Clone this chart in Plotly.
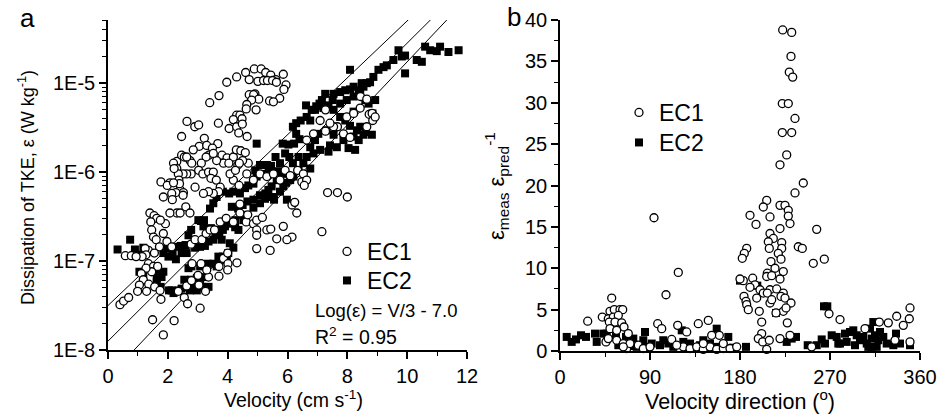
import plotly.graph_objects as go

# ---------------------------------------------------------------------------
# Panel a: dissipation of TKE vs. velocity (velocity in cm/s, log10 of epsilon)
# ---------------------------------------------------------------------------
ec1_velocity = [
    4.89, 5.12, 5.27, 5.44, 5.61, 5.86, 4.60, 4.30, 3.97, 4.72, 5.01, 5.20, 5.33, 5.50, 5.63, 5.95,
    5.88, 5.74, 5.40, 5.53, 4.91, 4.72, 4.87, 5.04, 4.80, 4.64, 4.95, 4.62, 3.71, 3.40, 4.30, 4.41,
    4.48, 4.19, 4.05, 4.30, 4.37, 4.49, 4.65, 3.69, 3.22, 2.64, 2.90, 3.03, 2.46, 3.05, 3.30, 2.85,
    3.67, 3.49, 3.37, 3.81, 3.98, 4.19, 4.29, 4.44, 4.59, 4.69, 4.50, 4.34, 3.86, 4.04, 3.63, 3.28,
    3.52, 3.12, 3.03, 3.17, 3.36, 3.52, 3.44, 3.62, 3.75, 3.70, 3.52, 3.36, 3.19, 2.91, 2.78, 2.63,
    2.51, 2.30, 2.19, 2.30, 2.46, 2.55, 2.74, 2.80, 2.63, 2.35, 2.21, 2.37, 2.41, 2.52, 2.27, 2.39,
    2.07, 1.77, 1.98, 2.19, 1.85, 2.13, 2.15, 2.51, 2.60, 2.74, 2.30, 2.41, 2.07, 1.92, 1.40, 1.54,
    1.63, 1.75, 1.43, 1.46, 1.52, 1.61, 1.85, 1.97, 2.13, 1.72, 1.35, 1.24, 1.55, 1.27, 1.14, 1.35,
    1.52, 1.66, 1.46, 1.27, 1.11, 1.18, 1.36, 1.05, 0.99, 1.29, 1.56, 1.74, 1.77, 1.49, 1.85, 2.21,
    0.40, 0.52, 0.69, 0.58, 0.78, 0.94, 2.35, 2.55, 2.66, 3.08, 3.26, 3.04, 2.63, 2.79, 3.01, 3.36,
    3.71, 3.86, 4.00, 4.01, 4.31, 4.00, 3.71, 3.30, 3.11, 2.81, 2.78, 2.91, 3.14, 3.28, 3.41, 3.56,
    3.75, 3.95, 4.19, 4.41, 4.62, 4.86, 4.97, 5.16, 4.97, 5.31, 5.44, 5.64, 5.86, 6.15, 5.98, 6.15,
    6.24, 6.31, 4.97, 5.42, 4.97, 4.67, 4.41, 4.19, 4.38, 4.08, 4.26, 4.39, 4.64, 4.86, 5.08, 5.31,
    5.53, 5.75, 5.92, 6.09, 6.34, 6.53, 6.48, 6.64, 6.56, 7.15, 7.34, 7.67, 8.00, 7.98, 8.21, 8.43,
    8.44, 8.65, 8.73, 8.83, 7.87, 7.67, 7.54, 7.42, 7.27, 6.87, 6.64, 7.09, 7.27, 8.09, 8.65, 8.85,
    8.93,
]
ec1_log_eps = [
    -4.84, -4.84, -4.88, -4.91, -4.96, -4.90, -4.88, -4.93, -4.99, -4.96, -4.98, -4.97, -4.97, -4.97, -4.99, -5.02,
    -5.07, -5.17, -5.20, -5.21, -5.12, -5.13, -5.13, -5.18, -5.19, -5.24, -5.30, -5.29, -5.14, -5.22, -5.36, -5.36,
    -5.40, -5.41, -5.51, -5.49, -5.56, -5.46, -5.60, -5.45, -5.62, -5.43, -5.49, -5.47, -5.60, -5.71, -5.70, -5.75,
    -5.68, -5.73, -5.81, -5.81, -5.84, -5.83, -5.75, -5.76, -5.78, -5.90, -5.87, -5.92, -5.90, -5.90, -5.87, -5.83,
    -5.79, -5.90, -5.98, -6.02, -6.00, -6.00, -6.07, -6.09, -6.17, -6.22, -6.24, -6.22, -6.24, -6.17, -6.02, -6.02,
    -6.02, -5.88, -5.90, -5.96, -5.81, -5.83, -5.87, -5.90, -5.83, -6.02, -5.96, -6.09, -6.20, -6.23, -6.23, -6.13,
    -6.12, -6.11, -6.15, -6.12, -6.28, -6.24, -6.31, -6.26, -6.39, -6.46, -6.46, -6.46, -6.46, -6.58, -6.46, -6.49,
    -6.52, -6.54, -6.56, -6.65, -6.73, -6.76, -6.69, -6.78, -6.84, -6.84, -6.88, -6.86, -6.91, -6.93, -6.95, -7.03,
    -7.06, -7.06, -7.12, -7.08, -7.14, -7.21, -7.26, -7.27, -7.34, -7.34, -7.29, -7.33, -7.43, -7.66, -7.83, -7.67,
    -7.49, -7.45, -7.41, -6.94, -6.94, -6.95, -7.34, -7.41, -7.48, -7.53, -7.34, -7.27, -7.28, -7.22, -7.16, -7.18,
    -7.06, -6.97, -6.91, -7.03, -7.02, -7.10, -7.17, -7.10, -7.03, -7.03, -6.81, -6.76, -6.76, -6.69, -6.65, -6.65,
    -6.56, -6.52, -6.56, -6.46, -6.56, -6.58, -6.54, -6.51, -6.65, -6.65, -6.64, -6.75, -6.61, -6.73, -6.76, -6.37,
    -6.34, -6.46, -6.86, -6.88, -6.71, -6.48, -6.36, -6.09, -6.15, -6.02, -5.98, -5.90, -6.02, -6.09, -6.02, -6.05,
    -6.02, -6.09, -5.98, -6.04, -5.98, -6.02, -6.11, -6.09, -6.15, -6.67, -6.23, -6.23, -6.28, -5.38, -5.34, -5.28,
    -5.15, -5.18, -5.35, -5.34, -5.57, -5.49, -5.49, -5.45, -5.54, -5.57, -5.64, -5.42, -5.30, -5.61, -5.49, -5.42,
    -5.38,
]

ec2_velocity = [
    0.32, 0.74, 0.90, 1.18, 1.10, 1.05, 1.18, 1.37, 1.57, 1.66, 1.79, 1.85, 1.63, 1.63, 1.76, 2.04,
    2.19, 2.36, 2.46, 2.66, 2.78, 2.97, 2.91, 3.08, 3.19, 3.36, 2.69, 2.79, 3.08, 3.33, 3.52, 3.63,
    3.69, 3.78, 3.84, 3.97, 4.02, 4.19, 4.07, 3.80, 3.59, 3.61, 3.44, 3.19, 3.02, 2.78, 2.69, 2.59,
    2.43, 2.24, 2.07, 1.91, 1.85, 2.02, 2.16, 2.27, 2.46, 2.63, 2.91, 3.08, 3.24, 3.36, 3.52, 3.72,
    3.84, 3.91, 4.08, 4.25, 4.36, 4.14, 4.05, 3.84, 3.63, 3.52, 3.41, 3.21, 3.11, 4.19, 4.41, 4.58,
    4.69, 4.86, 4.97, 5.20, 5.37, 4.92, 5.08, 5.31, 5.45, 5.60, 5.75, 5.67, 5.75, 5.64, 5.47, 5.36,
    5.26, 5.08, 4.86, 4.66, 4.50, 4.35, 4.47, 4.53, 4.26, 4.86, 5.08, 5.25, 5.40, 5.53, 5.75, 5.86,
    5.95, 6.09, 6.20, 6.37, 6.18, 6.06, 5.92, 5.84, 6.03, 6.22, 6.40, 6.29, 6.18, 6.29, 6.44, 6.64,
    6.81, 6.96, 7.07, 7.20, 7.37, 7.51, 7.54, 7.76, 7.93, 8.09, 8.21, 8.38, 8.54, 8.65, 8.76, 8.87,
    9.04, 9.21, 9.32, 9.54, 9.71, 9.82, 9.93, 10.32, 10.49, 10.60, 10.77, 10.99, 11.10, 11.38, 11.72, 8.09,
    7.54, 7.76, 7.98, 8.21, 8.43, 8.60, 8.71, 8.48, 7.76, 7.93, 8.09, 8.32, 8.21, 8.38, 8.54, 8.82,
    8.04, 8.26, 7.87, 7.65, 7.42, 7.37, 7.09, 6.87, 6.64, 6.76, 6.53, 6.37, 6.76, 6.92, 7.03, 7.31,
    7.54, 6.76, 6.62, 6.92, 7.15, 7.26, 8.21, 8.43, 8.62, 8.84, 8.93, 9.93, 4.97, 5.55, 5.98, 5.86,
    2.13, 2.55, 2.74, 2.97, 3.13,
]
ec2_log_eps = [
    -6.87, -6.76, -6.87, -6.85, -6.93, -7.12, -7.15, -7.07, -7.12, -7.13, -7.18, -7.12, -7.19, -7.24, -7.29, -7.33,
    -7.36, -7.33, -7.31, -7.29, -7.21, -7.19, -7.29, -7.27, -7.18, -7.29, -7.08, -7.06, -7.06, -7.03, -7.03, -7.06,
    -6.95, -6.99, -6.95, -6.97, -6.91, -6.85, -6.80, -6.76, -6.69, -6.65, -6.63, -6.61, -6.54, -6.65, -6.71, -6.82,
    -6.83, -6.84, -6.84, -6.86, -6.91, -6.95, -6.91, -6.98, -6.91, -6.91, -6.85, -6.84, -6.83, -6.78, -6.76, -6.71,
    -6.65, -6.61, -6.58, -6.62, -6.65, -6.39, -6.24, -6.22, -6.28, -6.35, -6.41, -6.54, -6.55, -6.22, -6.24, -6.18,
    -6.15, -6.13, -6.05, -6.02, -5.98, -5.98, -5.92, -5.92, -5.93, -5.83, -5.90, -5.99, -6.03, -6.09, -6.16, -6.20,
    -6.24, -6.26, -6.31, -6.33, -6.37, -6.41, -6.48, -6.54, -6.54, -6.40, -6.35, -6.30, -6.28, -6.28, -6.22, -6.16,
    -6.12, -6.09, -6.05, -5.98, -5.90, -5.83, -5.79, -5.68, -5.69, -5.68, -5.63, -5.57, -5.49, -5.45, -5.42, -5.38,
    -5.30, -5.26, -5.23, -5.28, -5.25, -5.19, -5.12, -5.10, -5.08, -5.07, -5.04, -5.08, -5.04, -5.00, -4.99, -4.93,
    -4.85, -4.82, -4.80, -4.74, -4.63, -4.70, -4.69, -4.74, -4.76, -4.59, -4.63, -4.64, -4.59, -4.65, -4.63, -4.85,
    -5.30, -5.23, -5.19, -5.15, -5.12, -5.19, -5.23, -5.00, -5.38, -5.42, -5.48, -5.53, -5.60, -5.64, -5.58, -5.58,
    -5.73, -5.75, -5.64, -5.72, -5.70, -5.77, -5.75, -5.79, -5.83, -5.96, -5.90, -5.83, -5.72, -5.64, -5.57, -5.53,
    -5.58, -5.42, -5.25, -5.30, -5.19, -5.12, -5.32, -5.49, -5.55, -5.34, -5.19, -4.89, -5.68, -6.31, -6.31, -6.02,
    -7.33, -7.21, -7.33, -7.33, -7.29,
]

# Regression line and its two bounding lines: log10(eps) = intercept + slope * V
fit_intercepts = [-7.50, -7.90, -8.31]
fit_slopes = [0.320, 0.335, 0.355]
fit_v_span = [0.0, 12.0]

# ---------------------------------------------------------------------------
# Panel b: ratio of measured to predicted dissipation vs. flow direction
# ---------------------------------------------------------------------------
ec1_direction = [
    222.7, 231.7, 231.0, 229.3, 232.7, 222.3, 228.3, 235.0, 222.3, 231.7, 226.7, 220.0, 243.3, 235.0, 206.7, 203.3,
    220.0, 225.0, 228.3, 228.3, 230.0, 210.0, 190.0, 196.0, 256.7, 220.0, 210.0, 213.3, 221.7, 208.3, 209.3, 186.7,
    184.3, 182.3, 221.7, 218.3, 238.3, 242.3, 221.0, 264.3, 253.3, 211.0, 215.0, 207.3, 206.7, 211.7, 223.3, 220.0,
    183.3, 192.7, 195.0, 190.0, 200.0, 203.3, 210.0, 216.7, 223.3, 221.0, 225.0, 231.0, 184.0, 186.0, 186.7, 188.3,
    199.3, 210.0, 207.3, 223.3, 216.0, 227.3, 201.7, 201.7, 230.0, 220.0, 198.3, 202.7, 209.3, 206.7, 211.7, 226.0,
    196.7, 269.0, 280.0, 305.0, 251.7, 350.0, 349.3, 343.3, 336.7, 328.3, 319.3, 350.0, 335.0, 27.7, 42.3, 51.7,
    50.0, 54.3, 60.0, 62.7, 48.3, 53.3, 58.3, 49.3, 55.0, 61.7, 64.0, 50.0, 56.7, 68.3, 46.0, 48.3,
    56.7, 63.3, 66.7, 70.0, 78.3, 83.3, 90.0, 63.3, 94.0, 118.3, 106.0, 97.7, 101.7, 117.7, 138.3, 148.3,
    111.7, 126.7, 159.3, 151.7, 123.3, 130.0, 136.7, 143.3, 150.0, 156.7, 163.3, 170.0, 176.7, 163.3, 180.0, 143.3,
    116.7,
]
ec1_ratio = [
    38.8, 38.5, 35.6, 33.7, 33.1, 29.9, 29.9, 28.1, 26.4, 26.4, 23.7, 22.5, 20.3, 19.1, 18.2, 17.4,
    17.6, 17.6, 17.0, 16.3, 15.4, 16.2, 16.4, 15.3, 14.7, 14.8, 14.2, 13.6, 13.1, 13.2, 12.4, 12.4,
    11.8, 11.2, 12.4, 11.8, 12.6, 12.4, 11.1, 11.1, 10.6, 10.8, 10.0, 9.4, 9.0, 9.1, 9.6, 8.7,
    8.5, 8.8, 8.0, 7.7, 7.4, 7.0, 7.4, 7.5, 7.0, 6.6, 6.4, 5.8, 6.6, 6.0, 5.6, 5.0,
    4.8, 5.8, 7.0, 4.8, 4.6, 3.4, 3.5, 2.1, 1.9, 1.5, 1.5, 1.1, 1.3, 0.2, 6.2, 5.2,
    6.4, 4.5, 3.8, 2.7, 0.5, 5.2, 3.9, 3.1, 4.2, 3.4, 3.5, 1.1, 1.3, 3.6, 4.1, 6.4,
    4.8, 5.0, 5.0, 5.0, 3.9, 4.1, 4.3, 3.5, 3.5, 3.4, 2.9, 2.7, 2.5, 2.1, 1.1, 1.5,
    1.3, 0.9, 0.3, 0.9, 0.7, 0.3, 0.5, 0.5, 16.1, 9.5, 6.8, 3.3, 2.7, 3.1, 3.3, 3.7,
    1.4, 2.3, 1.9, 1.9, 0.5, 0.3, 0.5, 0.2, 0.5, 0.2, 0.3, 0.3, 0.5, 0.9, 8.7, 0.9,
    0.7,
]

ec2_direction = [
    6.7, 11.7, 16.0, 21.0, 26.0, 35.0, 36.7, 43.3, 46.7, 56.0, 58.3, 66.0, 73.3, 70.0, 76.7, 85.0,
    83.3, 91.7, 88.3, 103.3, 100.0, 108.3, 113.3, 121.7, 123.3, 130.0, 140.0, 143.3, 150.0, 156.7, 155.0, 163.3,
    168.3, 173.3, 180.0, 186.0, 197.3, 216.0, 226.7, 231.7, 236.0, 247.7, 261.7, 264.0, 267.3, 265.0, 256.7, 271.7,
    276.7, 278.3, 285.0, 290.0, 293.3, 296.7, 300.0, 303.3, 306.7, 311.7, 313.3, 310.0, 315.0, 318.3, 320.0, 323.3,
    326.7, 333.3, 336.0, 340.0, 350.0, 308.3, 311.7, 316.7, 280.0, 286.7, 295.0,
]
ec2_ratio = [
    1.7, 1.1, 1.4, 1.9, 1.7, 2.1, 1.1, 2.1, 2.1, 1.9, 0.7, 1.7, 1.5, 0.6, 0.5, 2.3,
    1.3, 0.9, 0.5, 1.3, 0.7, 0.9, 0.5, 2.5, 1.1, 0.9, 0.7, 1.3, 0.9, 2.7, 0.5, 0.6,
    1.7, 0.4, 8.5, 0.5, 7.9, 4.6, 1.1, 1.5, 1.7, 0.7, 1.4, 5.4, 5.4, 0.9, 0.7, 1.9,
    1.7, 0.9, 2.1, 2.3, 2.5, 1.9, 1.3, 1.7, 0.9, 0.5, 3.5, 2.7, 1.9, 1.3, 2.3, 1.7,
    0.9, 0.7, 2.1, 0.9, 0.7, 0.5, 1.5, 0.5, 0.9, 1.1, 0.7,
]

# ---------------------------------------------------------------------------
W, H = 947, 418
FONT = "Liberation Sans, Arial, sans-serif"


def fx(px):
    return px / W


def fy(px):
    return 1 - px / H


circle_marker = dict(symbol="circle", size=8, color="white", line=dict(color="black", width=1.3))
square_marker = dict(symbol="square", size=8, color="black", line=dict(width=0))

fig = go.Figure()

# fit lines (panel a)
for b, m in zip(fit_intercepts, fit_slopes):
    fig.add_trace(go.Scatter(
        x=fit_v_span, y=[10 ** (b + m * v) for v in fit_v_span],
        mode="lines", line=dict(color="black", width=1),
        xaxis="x", yaxis="y", showlegend=False, hoverinfo="skip",
    ))

# each legend entry gets its own legend box so rows can be placed freely
fig.add_trace(go.Scatter(
    x=ec2_velocity, y=[10 ** e for e in ec2_log_eps], mode="markers", marker=square_marker,
    name="EC2", legend="legend3", xaxis="x", yaxis="y", cliponaxis=False,
))
fig.add_trace(go.Scatter(
    x=ec1_velocity, y=[10 ** e for e in ec1_log_eps], mode="markers", marker=circle_marker,
    name="EC1", legend="legend", xaxis="x", yaxis="y", cliponaxis=False,
))

fig.add_trace(go.Scatter(
    x=ec2_direction, y=ec2_ratio, mode="markers", marker=square_marker,
    name="EC2", legend="legend4", xaxis="x2", yaxis="y2", cliponaxis=False,
))
fig.add_trace(go.Scatter(
    x=ec1_direction, y=ec1_ratio, mode="markers", marker=circle_marker,
    name="EC1", legend="legend2", xaxis="x2", yaxis="y2", cliponaxis=False,
))

tickfont = dict(family=FONT, size=20, color="black")
axis_common = dict(
    showline=True, linecolor="black", linewidth=1.5, mirror=False, automargin=False,
    ticks="outside", ticklen=7, tickwidth=1.5, tickcolor="black",
    showgrid=False, zeroline=False, tickfont=tickfont,
)
minor_common = dict(ticks="outside", ticklen=4, tickwidth=1.2, tickcolor="black", showgrid=False)

decade_minor = [k * 10.0 ** e for e in range(-8, -4) for k in range(2, 10)]

legend_common = dict(
    xanchor="left", yanchor="top", bgcolor="rgba(0,0,0,0)", borderwidth=0,
    font=dict(family=FONT, size=23, color="black"), itemwidth=30, tracegroupgap=0,
)

fig.update_layout(
    template="none",
    width=W, height=H, margin=dict(l=0, r=0, t=0, b=0, pad=0, autoexpand=False),
    paper_bgcolor="white", plot_bgcolor="white", showlegend=True,
    font=dict(family=FONT, color="black"),
    xaxis=dict(domain=[fx(108), fx(467)], range=[0, 12], anchor="y", tick0=0, dtick=2,
               minor=dict(dtick=1, **minor_common), **axis_common),
    yaxis=dict(domain=[fy(350), fy(20)], type="log", range=[-8, -4.29], anchor="x",
               tickvals=[1e-8, 1e-7, 1e-6, 1e-5], ticktext=["1E-8", "1E-7", "1E-6", "1E-5"],
               minor=dict(tickmode="array", tickvals=decade_minor, **minor_common), **axis_common),
    xaxis2=dict(domain=[fx(560), fx(920)], range=[0, 360], anchor="y2", tick0=0, dtick=90,
                minor=dict(dtick=45, **minor_common), **axis_common),
    yaxis2=dict(domain=[fy(351), fy(20)], range=[0, 40], anchor="x2", tick0=0, dtick=5,
                minor=dict(dtick=2.5, **minor_common), **axis_common),
    legend=dict(x=fx(327), y=fy(230), **legend_common),
    legend3=dict(x=fx(327), y=fy(259), **legend_common),
    legend2=dict(x=fx(619), y=fy(91), **legend_common),
    legend4=dict(x=fx(619), y=fy(121), **legend_common),
)

annotations = [
    dict(text="a", x=fx(27), y=fy(18), font=dict(size=26)),
    dict(text="b", x=fx(514), y=fy(17), font=dict(size=26)),
    dict(text="Dissipation of TKE, ε (W kg<sup>-1</sup>)", x=fx(26), y=fy(188), textangle=-90,
         font=dict(size=18)),
    dict(text="Velocity (cm s<sup>-1</sup>)", x=fx(293), y=fy(399), font=dict(size=19.5)),
    dict(text="Log(ε) = V/3 - 7.0", x=fx(313), y=fy(310), xanchor="left", font=dict(size=18.5)),
    dict(text="R<sup>2</sup> = 0.95", x=fx(313), y=fy(336), xanchor="left", font=dict(size=19.5)),
    dict(text="ε<sub>meas</sub> ε<sub>pred</sub><sup>-1</sup>", x=fx(496), y=fy(186), textangle=-90,
         font=dict(size=22)),
    dict(text="Velocity direction (<sup>o</sup>)", x=fx(740), y=fy(400), font=dict(size=21.5)),
]
for a in annotations:
    a.setdefault("xanchor", "center")
    a.update(xref="paper", yref="paper", yanchor="middle", showarrow=False)
    a["font"] = dict(family=FONT, color="black", **a["font"])
fig.update_layout(annotations=annotations)

fig.write_html("out.html")
